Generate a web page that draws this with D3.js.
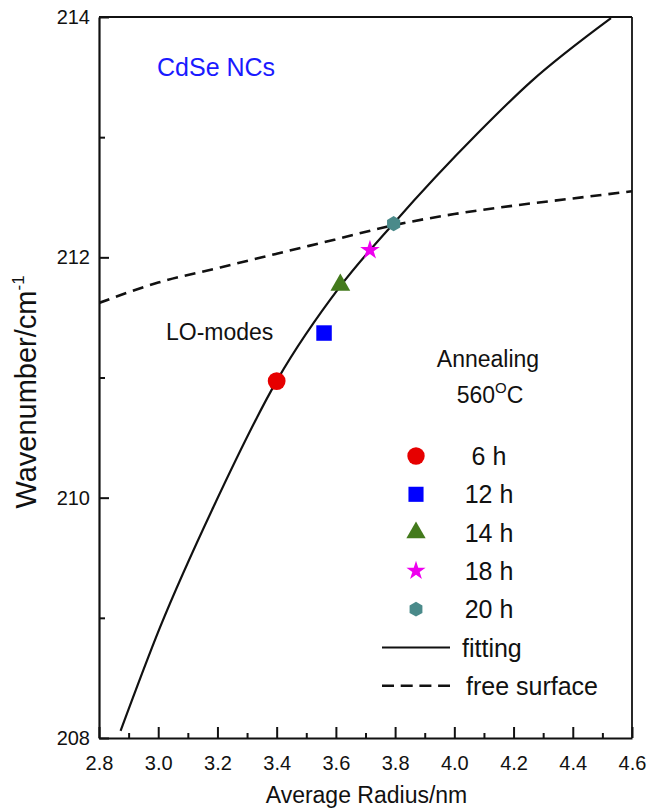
<!DOCTYPE html>
<html>
<head>
<meta charset="utf-8">
<script src="https://cdn.jsdelivr.net/npm/d3@7"></script>
<style>
  body { margin: 0; background: #fff; }
  text { font-family: "Liberation Sans", Arial, sans-serif; fill: #111; }
</style>
</head>
<body>
<div id="chart"></div>
<script>
// data
var sampleLabels = ["6 h", "12 h", "14 h", "18 h", "20 h"];
var sampleRadius = [3.40, 3.56, 3.615, 3.715, 3.795];
var sampleWave = [210.97, 211.37, 211.77, 212.06, 212.28];
var sampleColors = ["#e60000", "#0000ff", "#437a1c", "#ee00ee", "#4a8a8a"];

var fitRadius = [2.873, 3.006, 3.186, 3.402, 3.615, 3.794, 4.078, 4.258, 4.529];
var fitWave = [208.06, 208.92, 209.92, 210.98, 211.76, 212.28, 213.03, 213.46, 213.99];

var freeRadius = [2.8, 3.0, 3.2, 3.4, 3.6, 3.8, 4.0, 4.2, 4.4, 4.6];
var freeWave = [211.62, 211.79, 211.91, 212.03, 212.15, 212.27, 212.36, 212.43, 212.49, 212.55];

var xTicks = [2.8, 3.0, 3.2, 3.4, 3.6, 3.8, 4.0, 4.2, 4.4, 4.6];
var yTicks = [208, 210, 212, 214];

var margin = {top: 17, right: 28, bottom: 71, left: 99},
  width = 660 - margin.left - margin.right,
  height = 809 - margin.top - margin.bottom;

var svg = d3.select("#chart")
.append("svg")
  .attr("width", 660)
  .attr("height", 809)
.append("g")
  .attr("transform", "translate(" + margin.left + "," + margin.top + ")");

var x = d3.scaleLinear().domain([2.8, 4.6]).range([0, width]);
var y = d3.scaleLinear().domain([208, 214]).range([height, 0]);

svg.append("clipPath").attr("id", "plotclip")
  .append("rect").attr("width", width).attr("height", height);

// minor ticks
var xMinor = d3.range(2.9, 4.6, 0.2);
var yMinor = [209, 211, 213];

svg.append("g")
  .attr("transform", "translate(0," + height + ")")
  .call(d3.axisBottom(x).tickValues(xTicks).tickFormat(d3.format(".1f")).tickSizeInner(-11).tickSizeOuter(0).tickPadding(18));
svg.append("g")
  .attr("transform", "translate(0," + height + ")")
  .call(d3.axisBottom(x).tickValues(xMinor).tickFormat("").tickSizeInner(-5).tickSizeOuter(0))
  .select(".domain").remove();

svg.append("g")
  .call(d3.axisLeft(y).tickValues(yTicks).tickFormat(d3.format("d")).tickSizeInner(-10).tickSizeOuter(0).tickPadding(9));
svg.append("g")
  .call(d3.axisLeft(y).tickValues(yMinor).tickFormat("").tickSizeInner(-6).tickSizeOuter(0))
  .select(".domain").remove();

svg.selectAll(".domain").attr("stroke", "#111").attr("stroke-width", 2.2);
svg.selectAll(".tick line").attr("stroke", "#111").attr("stroke-width", 2);
svg.selectAll(".tick text").style("font-size", "20px").attr("fill", "#111");

// top and right frame
svg.append("line").attr("x1", 0).attr("x2", width).attr("y1", 0).attr("y2", 0)
  .attr("stroke", "#111").attr("stroke-width", 1.8);
svg.append("line").attr("x1", width).attr("x2", width).attr("y1", 0).attr("y2", height)
  .attr("stroke", "#111").attr("stroke-width", 1.8);

// curves
var fitData = fitRadius.map(function(r, i) { return [r, fitWave[i]]; });
var freeData = freeRadius.map(function(r, i) { return [r, freeWave[i]]; });
var line = d3.line()
  .x(function(d) { return x(d[0]); })
  .y(function(d) { return y(d[1]); })
  .curve(d3.curveMonotoneX);

svg.append("path").datum(freeData)
  .attr("clip-path", "url(#plotclip)")
  .attr("d", line)
  .attr("fill", "none").attr("stroke", "#111").attr("stroke-width", 2.6)
  .attr("stroke-dasharray", "11,7");

svg.append("path").datum(fitData)
  .attr("clip-path", "url(#plotclip)")
  .attr("d", line)
  .attr("fill", "none").attr("stroke", "#111").attr("stroke-width", 2.2);

// hexagon symbol
var symbolHexagon = {
  draw: function(context, size) {
    var r = Math.sqrt(size / (1.5 * Math.sqrt(3)));
    for (var i = 0; i < 6; i++) {
      var a = Math.PI / 6 + i * Math.PI / 3;
      if (i === 0) context.moveTo(r * Math.cos(a), r * Math.sin(a));
      else context.lineTo(r * Math.cos(a), r * Math.sin(a));
    }
    context.closePath();
  }
};
var symbolTypes = [d3.symbolCircle, d3.symbolSquare, d3.symbolTriangle, d3.symbolStar, symbolHexagon];
var symbolSizes = [250, 240, 170, 120, 150];

svg.selectAll(".pt")
  .data(sampleLabels)
  .enter()
  .append("path")
    .attr("class", "pt")
    .attr("transform", function(d, i) { return "translate(" + x(sampleRadius[i]) + "," + y(sampleWave[i]) + ")"; })
    .attr("d", function(d, i) { return d3.symbol().type(symbolTypes[i]).size(symbolSizes[i])(); })
    .attr("fill", function(d, i) { return sampleColors[i]; });

// legend
var legend = svg.append("g").attr("transform", "translate(" + (416 - margin.left) + "," + (456 - margin.top) + ")");
var rowH = 38.3;
sampleLabels.forEach(function(lab, i) {
  legend.append("path")
    .attr("transform", "translate(0," + (i * rowH) + ")")
    .attr("d", d3.symbol().type(symbolTypes[i]).size(symbolSizes[i] * 0.95)())
    .attr("fill", sampleColors[i]);
  legend.append("text")
    .attr("x", 73).attr("y", i * rowH + 9)
    .attr("text-anchor", "middle")
    .style("font-size", "25px")
    .text(lab);
});
legend.append("line").attr("x1", -34).attr("x2", 34).attr("y1", 5 * rowH).attr("y2", 5 * rowH)
  .attr("stroke", "#111").attr("stroke-width", 2.2);
legend.append("text").attr("x", 46).attr("y", 5 * rowH + 9).style("font-size", "25px").text("fitting");
legend.append("line").attr("x1", -34).attr("x2", 34).attr("y1", 6 * rowH).attr("y2", 6 * rowH)
  .attr("stroke", "#111").attr("stroke-width", 2.4).attr("stroke-dasharray", "12,6.7");
legend.append("text").attr("x", 50).attr("y", 6 * rowH + 9).style("font-size", "25px").text("free surface");

// annotations
svg.append("text")
  .attr("x", 157 - margin.left).attr("y", 76 - margin.top)
  .style("font-size", "25px").style("fill", "#1a1aff")
  .text("CdSe NCs");
svg.append("text")
  .attr("x", 166 - margin.left).attr("y", 340 - margin.top)
  .style("font-size", "23px")
  .text("LO-modes");
svg.append("text")
  .attr("x", 488 - margin.left).attr("y", 367 - margin.top)
  .attr("text-anchor", "middle")
  .style("font-size", "23px")
  .text("Annealing");
var deg = svg.append("text")
  .attr("x", 490 - margin.left).attr("y", 403 - margin.top)
  .attr("text-anchor", "middle")
  .style("font-size", "23px");
deg.append("tspan").text("560");
deg.append("tspan").attr("dy", -10).style("font-size", "15px").text("O");
deg.append("tspan").attr("dy", 10).text("C");

// axis titles
svg.append("text")
  .attr("x", width / 2 + 1).attr("y", 803 - margin.top)
  .attr("text-anchor", "middle")
  .style("font-size", "23px")
  .text("Average Radius/nm");
var yl = svg.append("text")
  .attr("transform", "translate(" + (36 - margin.left) + "," + (392 - margin.top) + ") rotate(-90)")
  .attr("text-anchor", "middle")
  .style("font-size", "29px");
yl.append("tspan").text("Wavenumber/cm");
yl.append("tspan").attr("dy", -12).style("font-size", "17px").text("-1");
</script>
</body>
</html>
